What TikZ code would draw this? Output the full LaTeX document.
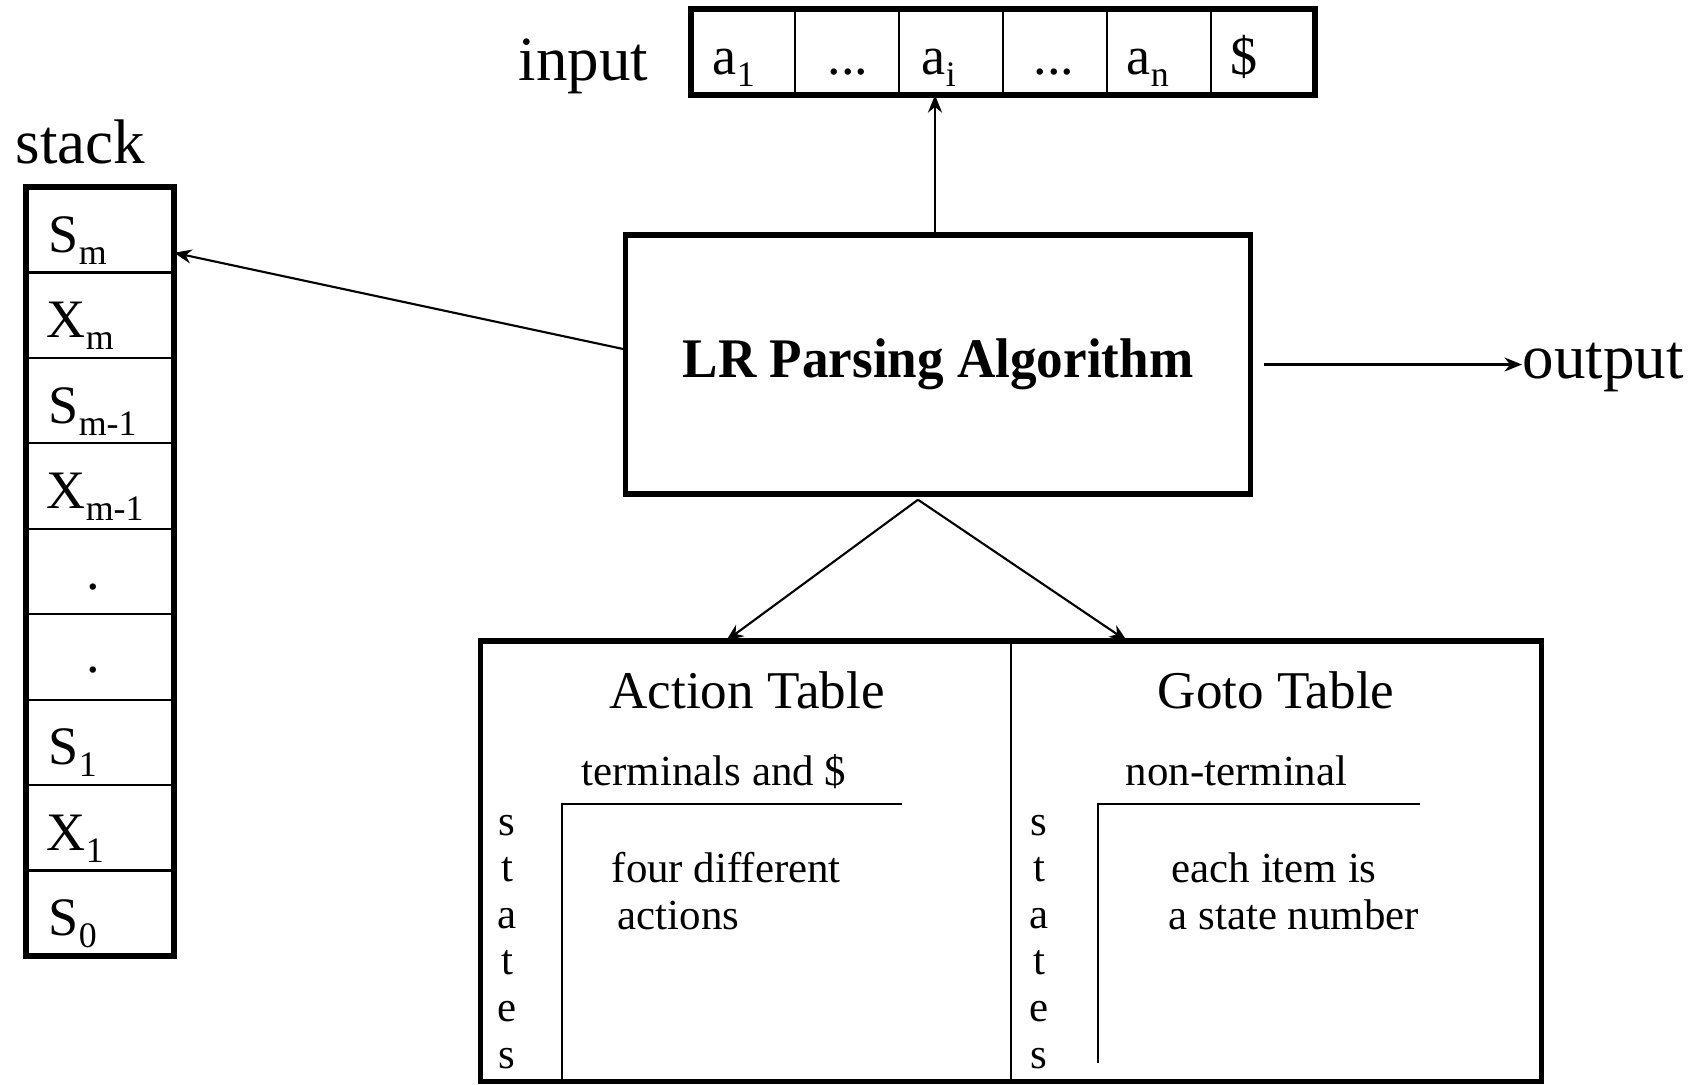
\documentclass[tikz,border=0pt]{standalone}
\usepackage{fontspec}
\setmainfont{Liberation Serif}
\usetikzlibrary{arrows.meta}
\newcommand\setfsz[1]{\fontsize{#1}{#1}\selectfont}
\newcommand\subtx[1]{\raisebox{-0.12cm}{\setfsz{10.2pt}#1}}
\begin{document}
\begin{tikzpicture}[x=0.01cm,y=-0.01cm,
  thickborder/.style={line width=1.5pt},
  thinline/.style={line width=0.6pt},
  conn/.style={line width=0.6pt,-{Stealth[length=5pt,width=4pt]}},
  incell/.style={draw,line width=0.6pt,minimum width=1.04cm,minimum height=0.86cm,inner sep=0,outer sep=0,anchor=north west},
  stcell/.style={draw,line width=0.6pt,minimum width=1.48cm,minimum height=0.8544cm,inner sep=0,outer sep=0,anchor=north west},
  bigtxt/.style={inner sep=0,font=\setfsz{17.9pt}},
  celltxt/.style={inner sep=0,anchor=base west,font=\setfsz{15.4pt}},
  tbltitle/.style={inner sep=0,anchor=base,font=\setfsz{15.1pt}},
  smalltxt/.style={inner sep=0,anchor=base west,font=\setfsz{12.2pt}},
  statetxt/.style={inner sep=0,anchor=base,font=\setfsz{12.2pt}},
  tblpart/.style={inner sep=0,outer sep=0,minimum width=5.30cm,minimum height=4.40cm}
]
\useasboundingbox (0,0) rectangle (1704,1084);

% input tape
\foreach \i in {1,...,6} \node[incell] (in\i) at ({691+(\i-1)*104},9) {};
\draw[thickborder] (in1.north west) rectangle (in6.south east);
\node[celltxt] (ta1) at (712,74) {a\subtx{1}};
\node[celltxt,anchor=base] (tdots1) at (848,74) {...};
\node[celltxt] (tai) at (921,74) {a\subtx{i}};
\node[celltxt,anchor=base] (tdots2) at (1054,74) {...};
\node[celltxt] (tan) at (1126,74) {a\subtx{n}};
\node[celltxt] (tdol) at (1230,74) {\$};
\node[bigtxt,anchor=base west] (inlbl) at (518,80) {input};

% stack
\foreach \i/\nm in {1/sm,2/xm,3/smm,4/xmm,5/d1,6/d2,7/s1,8/x1,9/s0}
  \node[stcell] (\nm) at (26,{187+(\i-1)*85.44}) {};
\draw[thickborder] (sm.north west) rectangle (s0.south east);
\node[bigtxt,anchor=base west] (stlbl) at (15,163) {stack};
\node[celltxt] (tsm) at (48,252) {S\subtx{m}};
\node[celltxt] (txm) at (46,337) {X\subtx{m}};
\node[celltxt] (tsmm) at (48,423) {S\subtx{m-1}};
\node[celltxt] (txmm) at (46,508) {X\subtx{m-1}};
\node[celltxt,anchor=base] (td1) at (93,589) {.};
\node[celltxt,anchor=base] (td2) at (93,672) {.};
\node[celltxt] (ts1) at (48,764) {S\subtx{1}};
\node[celltxt] (tx1) at (46,850) {X\subtx{1}};
\node[celltxt] (ts0) at (48,935) {S\subtx{0}};

% LR box
\node[draw,thickborder,minimum width=6.24cm,minimum height=2.59cm,inner sep=0] (lr) at (938,364.5)
  {\setfsz{15.9pt}\scalebox{0.95}[1]{\bfseries LR Parsing Algorithm}};

% output
\node[bigtxt,anchor=base west] (out) at (1522,378) {output};

% tables
\node[tblpart] (act) at (746,861) {};
\node[tblpart] (goto) at (1276,861) {};
\draw[thickborder] (act.south west) -- (act.north west) -- (goto.north east) -- (goto.south east) -- cycle;
\draw[thinline] (act.north east) -- (act.south east);
\node[tbltitle] (acttl) at (747,708) {Action Table};
\node[tbltitle] (gotl) at (1276,708) {Goto Table};
\node[smalltxt] (term) at (581,785) {terminals and \$};
\node[smalltxt] (nterm) at (1125,785) {non-terminal};
\draw[thinline] (562,1081) -- (562,804) -- (902,804);
\draw[thinline] (1098,1063) -- (1098,804) -- (1420,804);
\node[smalltxt] (four) at (611,882) {four different};
\node[smalltxt] (acts) at (617,929) {actions};
\node[smalltxt] (each) at (1171,882) {each item is};
\node[smalltxt] (asn) at (1168,929) {a state number};
\foreach \l [count=\k] in {s,t,a,t,e,s} {
  \node[statetxt] (sa\k) at (507,{835+(\k-1)*46.6}) {\l};
  \node[statetxt] (sg\k) at (1039,{835+(\k-1)*46.6}) {\l};
}

% connectors
\draw[conn] ([xshift=-0.03cm]lr.north) -- ([xshift=-0.03cm]lr.north |- in3.south);
\draw[conn] ([yshift=0.155cm]lr.west) -- ([yshift=-0.23cm]sm.east);
\draw[conn] ([xshift=0.11cm]lr.east) -- (out.west |- lr.east);
\coordinate (apex) at ([xshift=-0.2cm,yshift=-0.03cm]lr.south);
\draw[conn] (apex) -- ([xshift=-0.2cm]act.north);
\draw[conn] (apex) -- ([xshift=-1.49cm]goto.north);
\end{tikzpicture}
\end{document}
